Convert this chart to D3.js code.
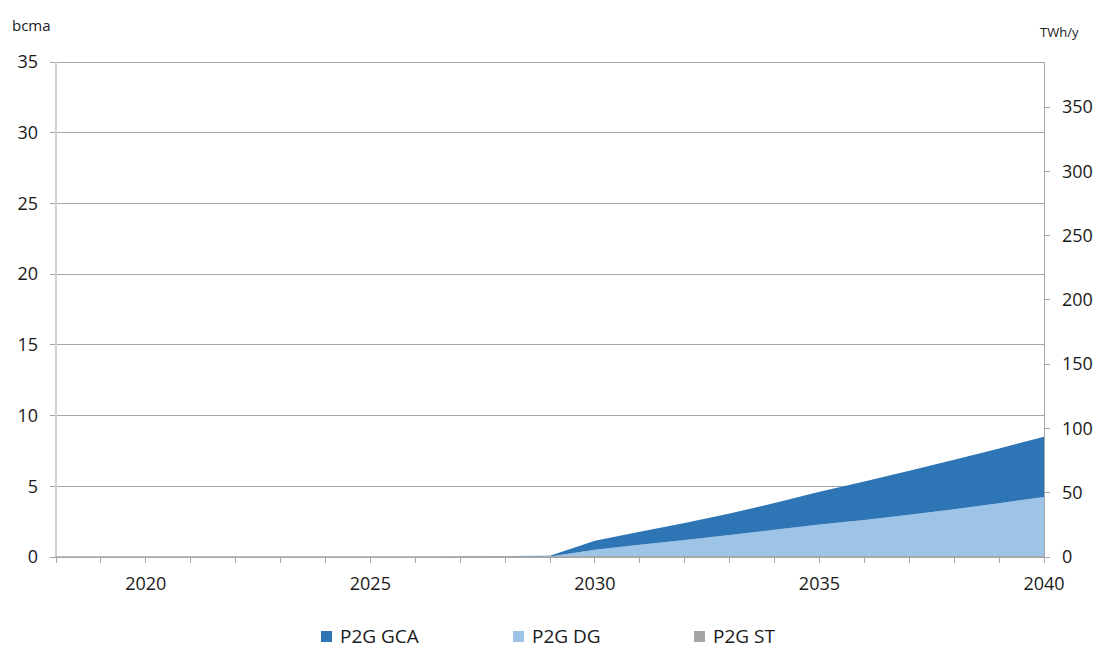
<!DOCTYPE html>
<html><head><meta charset="utf-8">
<script src="https://cdn.jsdelivr.net/npm/d3@7"></script>
<style>body{margin:0;background:#fff;} text{font-family:"Open Sans","Noto Sans","Liberation Sans",sans-serif;fill:#1a1a1a;}</style>
</head><body>
<svg id="c" width="1101" height="648"></svg>
<script>
const years = d3.range(2018, 2041);
const p2gGCA = [0,0,0,0,0,0,0,0,0,0.01,0.03,0.05,0.63,0.92,1.21,1.52,1.9,2.32,2.72,3.12,3.5,3.88,4.25];
const p2gDG  = [0,0,0,0,0,0,0,0,0,0.02,0.03,0.04,0.52,0.86,1.2,1.55,1.92,2.3,2.62,2.98,3.37,3.8,4.25];
const p2gST  = years.map(() => 0);
const leftTicks = [0,5,10,15,20,25,30,35];
const rightTicks = [0,50,100,150,200,250,300,350];
const xLabels = [2020,2025,2030,2035,2040];
const seriesNames = ["P2G GCA","P2G DG","P2G ST"];
const colors = {"P2G GCA":"#2E75B6","P2G DG":"#9DC3E6","P2G ST":"#A5A5A5"};

const svg = d3.select("#c");
const L = 56, R = 1044, T = 62, B = 557;
const x = d3.scaleLinear().domain([2018,2040]).range([L,R]);
const y = d3.scaleLinear().domain([0,35]).range([B,T]);
const y2 = d3.scaleLinear().domain([0,385]).range([B,T]);

// gridlines
svg.append("g").selectAll("line").data(leftTicks).join("line")
  .attr("x1",L-6).attr("x2",R).attr("y1",d=>y(d)).attr("y2",d=>y(d))
  .attr("stroke","#a6a6a6").attr("stroke-width",1).attr("shape-rendering","crispEdges");

// data stacked: DG bottom, GCA, ST
const table = years.map((yr,i)=>({year:yr,"P2G GCA":p2gGCA[i],"P2G DG":p2gDG[i],"P2G ST":p2gST[i]}));
const stack = d3.stack().keys(["P2G DG","P2G GCA","P2G ST"])(table);
const area = d3.area().x(d=>x(d.data.year)).y0(d=>y(d[0])).y1(d=>y(d[1]));
svg.append("g").selectAll("path").data(stack).join("path")
  .attr("d",area).attr("fill",d=>colors[d.key]);

// left axis line
svg.append("line").attr("x1",L).attr("x2",L).attr("y1",T).attr("y2",B)
  .attr("stroke","#d0d0d0").attr("stroke-width",2);
// right axis
svg.append("line").attr("x1",R).attr("x2",R).attr("y1",T).attr("y2",B+6)
  .attr("stroke","#a6a6a6").attr("shape-rendering","crispEdges");
svg.append("g").selectAll("line").data(rightTicks).join("line")
  .attr("x1",R).attr("x2",R+6).attr("y1",d=>y2(d)).attr("y2",d=>y2(d))
  .attr("stroke","#a6a6a6").attr("shape-rendering","crispEdges");
// x axis
svg.append("line").attr("x1",L).attr("x2",R).attr("y1",B).attr("y2",B)
  .attr("stroke","#a6a6a6").attr("stroke-width",1.5);
svg.append("g").selectAll("line").data(years).join("line")
  .attr("x1",d=>x(d)).attr("x2",d=>x(d)).attr("y1",B).attr("y2",B+6)
  .attr("stroke","#a6a6a6").attr("shape-rendering","crispEdges");

// labels
svg.append("g").selectAll("text").data(leftTicks).join("text")
  .attr("x",38).attr("y",d=>y(d)).attr("dy","0.35em").attr("text-anchor","end")
  .attr("font-size",18).text(d=>d);
svg.append("g").selectAll("text").data(rightTicks).join("text")
  .attr("x",1062).attr("y",d=>y2(d)).attr("dy","0.35em").attr("text-anchor","start")
  .attr("font-size",18).text(d=>d);
svg.append("g").selectAll("text").data(xLabels).join("text")
  .attr("x",d=>x(d)).attr("y",584).attr("dy","0.35em").attr("text-anchor","middle")
  .attr("font-size",18).text(d=>d);
svg.append("text").attr("x",12).attr("y",31).attr("font-size",15).text("bcma");
svg.append("text").attr("x",1040).attr("y",37).attr("font-size",13).text("TWh/y");

// legend
const legX = [321,513,694];
const lg = svg.append("g").selectAll("g").data(seriesNames).join("g")
  .attr("transform",(d,i)=>`translate(${legX[i]},0)`);
lg.append("rect").attr("x",0).attr("y",631).attr("width",11).attr("height",11).attr("fill",d=>colors[d]);
lg.append("text").attr("x",19).attr("y",636).attr("dy","0.35em").attr("font-size",19).text(d=>d);
</script>
</body></html>
